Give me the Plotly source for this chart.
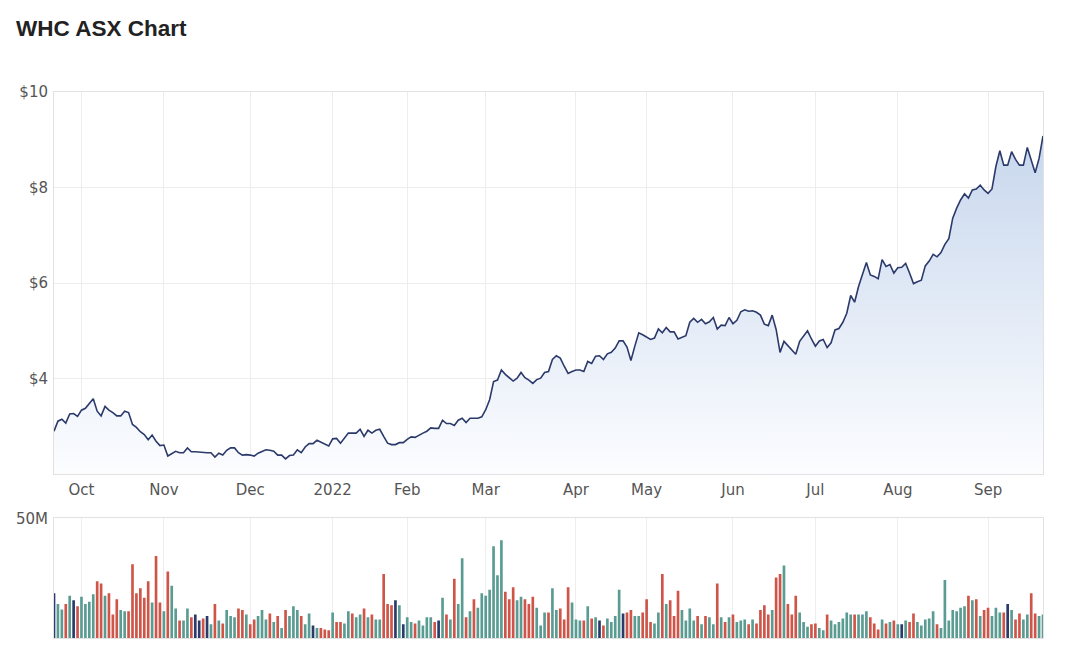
import pandas as pd
import plotly.graph_objects as go

# ASX trading days, 22 Sep 2021 - 21 Sep 2022
holidays = ["2021-12-27", "2021-12-28", "2022-01-03", "2022-01-26",
            "2022-04-15", "2022-04-18", "2022-04-25", "2022-06-13"]
days = pd.bdate_range("2021-09-22", "2022-09-21")
days = days[~days.isin(pd.to_datetime(holidays))]
dates = days.strftime("%Y-%m-%d").tolist()

# closing price ($)
close = [
    2.90, 3.11, 3.15, 3.07, 3.26, 3.27, 3.21, 3.34, 3.38, 3.47,
    3.58, 3.32, 3.22, 3.42, 3.34, 3.29, 3.22, 3.22, 3.32, 3.29,
    3.04, 2.98, 2.89, 2.83, 2.72, 2.82, 2.69, 2.60, 2.61, 2.38,
    2.43, 2.48, 2.45, 2.45, 2.55, 2.47, 2.47, 2.46, 2.45, 2.45,
    2.45, 2.36, 2.44, 2.40, 2.50, 2.55, 2.55, 2.45, 2.40, 2.41,
    2.40, 2.38, 2.44, 2.48, 2.51, 2.50, 2.48, 2.40, 2.40, 2.32,
    2.39, 2.40, 2.51, 2.45, 2.57, 2.64, 2.64, 2.71, 2.67, 2.64,
    2.59, 2.74, 2.75, 2.65, 2.76, 2.86, 2.86, 2.86, 2.94, 2.79,
    2.92, 2.86, 2.92, 2.94, 2.79, 2.65, 2.62, 2.62, 2.66, 2.66,
    2.73, 2.78, 2.77, 2.82, 2.86, 2.90, 2.97, 2.96, 2.96, 3.13,
    3.06, 3.06, 3.02, 3.13, 3.17, 3.08, 3.17, 3.17, 3.17, 3.20,
    3.35, 3.56, 3.94, 3.97, 4.18, 4.09, 4.01, 3.95, 4.01, 4.13,
    4.02, 3.97, 3.90, 3.98, 4.01, 4.13, 4.15, 4.40, 4.48, 4.43,
    4.26, 4.11, 4.15, 4.18, 4.18, 4.15, 4.36, 4.32, 4.47, 4.48,
    4.40, 4.52, 4.55, 4.64, 4.79, 4.79, 4.66, 4.38, 4.68, 4.96,
    4.92, 4.87, 4.82, 4.85, 5.04, 4.96, 5.07, 4.98, 4.98, 4.83,
    4.87, 4.90, 5.18, 5.26, 5.18, 5.24, 5.15, 5.19, 5.28, 5.04,
    5.12, 5.11, 5.28, 5.15, 5.22, 5.40, 5.44, 5.41, 5.42, 5.39,
    5.33, 5.14, 5.11, 5.33, 5.03, 4.55, 4.78, 4.69, 4.61, 4.51,
    4.78, 4.89, 5.00, 4.83, 4.68, 4.79, 4.82, 4.65, 4.75, 5.02,
    5.05, 5.18, 5.37, 5.74, 5.60, 5.93, 6.20, 6.43, 6.17, 6.14,
    6.09, 6.49, 6.35, 6.39, 6.21, 6.32, 6.33, 6.41, 6.21, 5.99,
    6.03, 6.06, 6.36, 6.46, 6.60, 6.55, 6.64, 6.81, 6.93, 7.36,
    7.57, 7.74, 7.87, 7.78, 7.95, 7.97, 8.05, 7.95, 7.88, 7.97,
    8.44, 8.77, 8.47, 8.47, 8.75, 8.59, 8.47, 8.47, 8.84, 8.59,
    8.31, 8.61, 9.08,
]

# volume (millions of shares)
volume_m = [
    18.7, 14.2, 11.9, 14.2, 17.7, 15.8, 13.3, 17.3, 14.2, 15.2,
    18.3, 23.7, 22.8, 17.7, 18.7, 9.8, 16.2, 11.7, 11.2, 11.2,
    30.8, 18.7, 20.8, 16.8, 23.7, 14.8, 34.3, 14.8, 11.2, 27.8,
    21.8, 12.3, 7.3, 7.3, 12.3, 8.7, 9.8, 7.3, 8.2, 9.2,
    5.7, 14.2, 7.3, 6.1, 11.7, 9.2, 8.7, 12.3, 11.7, 9.8,
    5.7, 7.7, 9.2, 11.7, 7.7, 10.2, 6.7, 9.2, 4.2, 11.7,
    9.2, 13.3, 11.7, 9.2, 5.7, 10.2, 5.2, 4.2, 4.2, 3.6,
    3.2, 10.7, 6.7, 6.7, 6.1, 11.2, 10.2, 8.7, 9.8, 12.3,
    8.7, 9.8, 7.7, 7.7, 26.8, 14.2, 13.7, 15.8, 13.7, 5.7,
    8.7, 6.7, 6.1, 7.3, 5.2, 8.7, 8.7, 6.7, 7.3, 16.8,
    9.8, 7.7, 24.8, 14.2, 33.4, 8.7, 11.2, 16.2, 12.7, 18.7,
    17.7, 20.2, 38.4, 26.2, 40.9, 19.3, 16.2, 21.2, 15.8, 17.2,
    16.2, 14.2, 17.3, 12.7, 5.2, 10.7, 10.7, 20.8, 11.7, 12.3,
    7.7, 21.2, 14.8, 7.7, 7.3, 7.3, 13.3, 8.2, 8.7, 7.3,
    5.2, 8.2, 6.7, 9.2, 20.2, 10.2, 10.7, 11.7, 9.2, 9.2,
    10.7, 16.2, 6.7, 6.1, 10.7, 26.8, 14.2, 15.8, 9.2, 19.8,
    11.7, 7.3, 12.3, 7.3, 9.2, 5.7, 9.2, 8.7, 5.7, 22.8,
    8.7, 6.7, 8.7, 9.8, 6.7, 7.3, 7.7, 5.7, 7.7, 6.1,
    11.7, 13.7, 9.8, 11.7, 25.3, 26.8, 30.3, 14.2, 9.8, 17.7,
    10.7, 6.7, 4.7, 5.7, 6.1, 4.2, 3.2, 9.8, 7.3, 5.7,
    6.7, 8.2, 10.7, 9.8, 9.8, 9.8, 9.8, 11.2, 8.7, 6.1,
    3.6, 7.7, 6.1, 6.7, 7.3, 5.7, 5.7, 7.3, 6.7, 10.2,
    6.7, 5.2, 7.7, 8.2, 11.2, 5.7, 4.2, 24.3, 7.3, 11.7,
    11.2, 12.7, 13.3, 17.7, 15.8, 16.2, 9.2, 11.7, 12.7, 9.2,
    12.7, 10.7, 10.7, 14.2, 11.7, 7.7, 10.2, 7.7, 9.8, 18.7,
    10.2, 9.2, 9.8,
]

# day direction: g = up, r = down, n = unchanged
direction = (
    "nggrgnrggg" "grrgrrrggr" "rrrrrgrrgr" "ggrggrnnrn" "grgrgggrrg"
    "rrgggrgrgr" "gggrggngrr" "rgrrggrggr" "grggrrrngn" "ggrggggrng"
    "rgrggrgrgg" "gggggrrrgg" "rrrgggrggr" "rrgggrgrgn" "rggggnrrgg"
    "rrrggrgrrr" "ggggrgrggr" "grgrgggrgr" "rrrgrrgrrr" "gggrrggrgg"
    "ggggrgggrr" "rgrgrgngrr" "gggggrgggg" "gggrgrgrrg" "ggrngrrggr"
    "rgg"
)

month_labels = ["Oct", "Nov", "Dec", "2022", "Feb", "Mar", "Apr",
                "May", "Jun", "Jul", "Aug", "Sep"]

# first trading day of each month (skip the partial Sep 2021)
firsts = pd.Series(dates, index=days).groupby(days.to_period("M")).first()
month_ticks = firsts.tolist()[1:]

dir_colors = {"g": "#5a9c92", "r": "#cf5549", "n": "#2b3a6c"}
bar_colors = [dir_colors[d] for d in direction]

navy = "#2b3a6b"
grid = "#ededed"
border = "#e2e2e2"
tick_font = dict(family="DejaVu Sans, Verdana, sans-serif", size=15, color="#555555")

fig = go.Figure()

fig.add_trace(go.Scatter(
    x=dates, y=close, mode="lines",
    line=dict(color=navy, width=1.6),
    fill="tozeroy",
    fillgradient=dict(
        type="vertical", start=2, stop=10,
        colorscale=[[0, "rgba(252,253,255,1)"], [1, "rgba(193,210,235,1)"]],
    ),
    xaxis="x", yaxis="y",
    hoverinfo="skip",
))

fig.add_trace(go.Bar(
    x=dates, y=[v * 1e6 for v in volume_m],
    marker=dict(color=bar_colors, line=dict(width=0)),
    xaxis="x2", yaxis="y2",
    hoverinfo="skip",
))

# page body adds an 8px margin, so the figure is sized to sit inside it
fig.update_layout(
    width=1058, height=650,
    margin=dict(l=46, r=23, t=84, b=20),
    paper_bgcolor="white", plot_bgcolor="white",
    showlegend=False,
    bargap=0.32,
    title=dict(
        text="<b>WHC ASX Chart</b>",
        xref="container", yref="container",
        x=8 / 1058, xanchor="left",
        y=1 - 20 / 650, yanchor="middle",
        font=dict(family="Liberation Sans, Arial, sans-serif", size=22.5, color="#222222"),
    ),
    xaxis=dict(
        type="category", domain=[0, 1], anchor="y", automargin=False,
        range=[0, len(dates) - 1],
        tickvals=month_ticks, ticktext=month_labels,
        showgrid=True, gridcolor=grid, gridwidth=1,
        showline=True, linecolor=border, mirror=True,
        ticks="outside", ticklen=2, tickcolor="rgba(0,0,0,0)",
        tickfont=tick_font, zeroline=False,
    ),
    yaxis=dict(
        domain=[0.300, 1], anchor="x", automargin=False,
        range=[2.0, 10],
        tickvals=[4, 6, 8, 10], ticktext=["$4", "$6", "$8", "$10"],
        showgrid=True, gridcolor=grid,
        showline=True, linecolor=border, mirror=True,
        ticks="outside", ticklen=2, tickcolor="rgba(0,0,0,0)",
        tickfont=tick_font, zeroline=False,
    ),
    xaxis2=dict(
        type="category", domain=[0, 1], anchor="y2", matches="x",
        automargin=False,
        tickvals=month_ticks, showticklabels=False,
        showgrid=True, gridcolor=grid,
        showline=True, linecolor=border, mirror=True,
        zeroline=False,
    ),
    yaxis2=dict(
        domain=[0, 0.219], anchor="x2", automargin=False,
        range=[0, 50e6],
        tickvals=[50e6], ticktext=["50M"],
        showgrid=True, gridcolor=grid,
        showline=True, linecolor=border, mirror=True,
        ticks="outside", ticklen=2, tickcolor="rgba(0,0,0,0)",
        tickfont=tick_font, zeroline=False,
    ),
)

fig.write_html("out.html")
